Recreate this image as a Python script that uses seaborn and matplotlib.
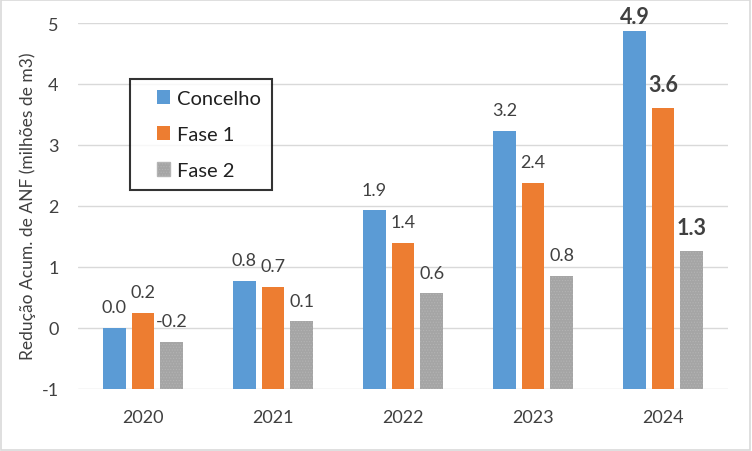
"""
plot.py - cumulative ANF reduction bar chart
"""
import pandas as pd
import matplotlib.pyplot as plt
from matplotlib.patches import Rectangle
from matplotlib.legend_handler import HandlerPatch
import seaborn as sns

YEARS = ["2020", "2021", "2022", "2023", "2024"]
SERIES = ["Concelho", "Fase 1", "Fase 2"]
CONCELHO = [0.00, 0.77, 1.93, 3.23, 4.87]
FASE1 = [0.24, 0.67, 1.39, 2.38, 3.61]
FASE2 = [-0.23, 0.10, 0.56, 0.85, 1.26]
COLORS = ["#5B9BD5", "#ED7D31", "#A5A5A5"]
BASE = -1  # bars start at the axis minimum, like Excel

sns.set_theme(style="white")
plt.rcParams['font.family'] = ['Lato', 'DejaVu Sans']
plt.rcParams['axes.unicode_minus'] = False
plt.rcParams['hatch.linewidth'] = 0.5

rows = []
for name, vals in zip(SERIES, [CONCELHO, FASE1, FASE2]):
    for year, v in zip(YEARS, vals):
        rows.append({"ano": year, "serie": name, "valor": v, "altura": v - BASE})
df = pd.DataFrame(rows)

fig = plt.figure(figsize=(7.52, 4.52), dpi=100)
ax = fig.add_axes([78 / 752, 1 - 389.5 / 452, 650 / 752, 365.5 / 452])

sns.barplot(data=df, x="ano", y="altura", hue="serie", order=YEARS,
            hue_order=SERIES, palette=COLORS, width=0.66, gap=0.2,
            bottom=BASE, linewidth=0, saturation=1, ax=ax, legend=False)

# fine dotted texture on the grey series
for bar in ax.containers[2]:
    bar.set_hatch("......")
    bar.set_edgecolor("#B4B4B4")

for i, (cont, name) in enumerate(zip(ax.containers, SERIES)):
    vals = df[df["serie"] == name]["valor"].tolist()
    texts = ax.bar_label(cont, labels=[f"{v:.1f}" for v in vals], padding=9,
                         fontsize=13, color="#404040")
    texts[-1].set_fontsize(15.5)
    texts[-1].set_fontweight("bold")
    if i == 0:
        texts[-1].xyann = (0, 3)  # tallest bar: keep label inside the figure

ax.set_ylim(-1, 5)
ax.set_yticks(range(-1, 6))
ax.set_xlim(-0.5, 4.5)
ax.grid(axis="y", color="#D9D9D9", linewidth=1)
ax.set_axisbelow(True)
for s in ax.spines.values():
    s.set_visible(False)
ax.tick_params(axis="both", length=0, labelsize=13, labelcolor="#404040")
ax.tick_params(axis="x", pad=15)
ax.tick_params(axis="y", pad=14)
ax.set_xlabel("")
ax.set_ylabel("Redução Acum. de ANF (milhões de m3)", fontsize=12.5,
              color="#404040", labelpad=4)


def square_patch(legend, orig_handle, xdescent, ydescent, width, height, fontsize):
    # square marker pushed to the right side of a wider handle box
    return Rectangle((width - height - xdescent, -ydescent), height, height)


handles = [Rectangle((0, 0), 1, 1, facecolor=c, edgecolor="none") for c in COLORS]
handles[2].set_hatch("......")
handles[2].set_edgecolor("#B4B4B4")
leg = ax.legend(handles, SERIES, loc="upper left", bbox_to_anchor=(0.08, 0.847),
                fontsize=14.5, frameon=True, fancybox=False, handlelength=1.45,
                handleheight=0.65, handletextpad=0.35, labelspacing=0.95,
                borderpad=0.55, borderaxespad=0,
                handler_map={Rectangle: HandlerPatch(patch_func=square_patch)})
leg.get_frame().set_edgecolor("black")
leg.get_frame().set_linewidth(1.5)
for t in leg.get_texts():
    t.set_color("#202020")

fig.patches.append(Rectangle((0.001, 0.002), 0.997, 0.996, transform=fig.transFigure,
                             fill=False, edgecolor="#D9D9D9", linewidth=1.2))

fig.savefig("out.png", dpi=100)
plt.close(fig)
